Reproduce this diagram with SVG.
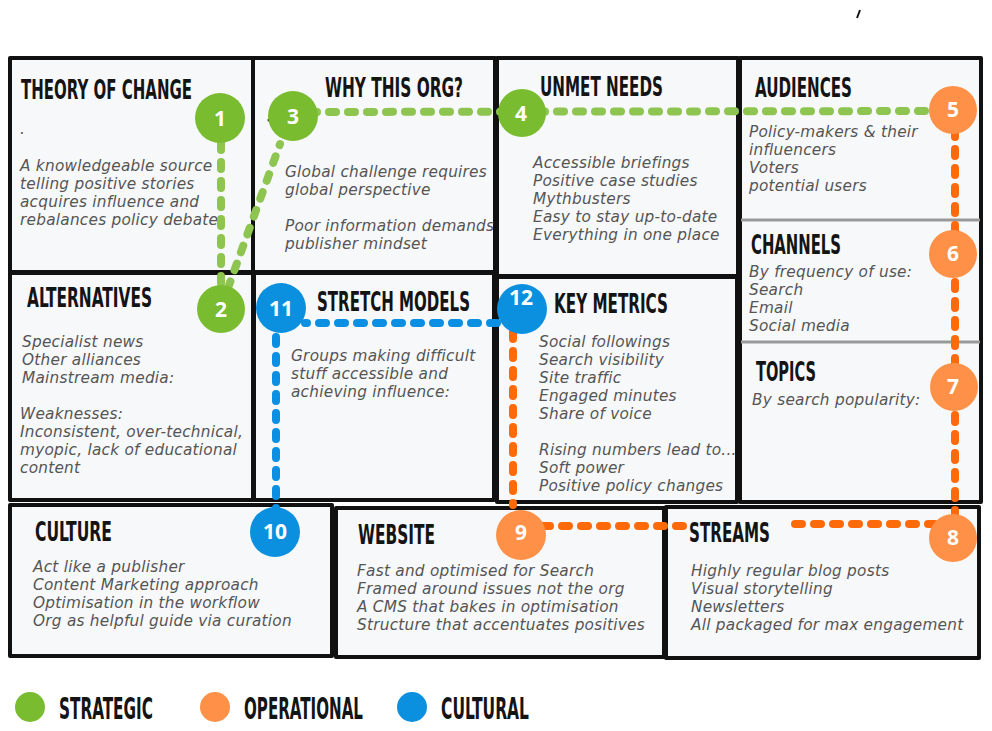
<svg xmlns="http://www.w3.org/2000/svg" width="992" height="731" viewBox="0 0 992 731">
<style>
.box{fill:#f7f8fa;stroke:#111;stroke-width:4;stroke-linejoin:round}
.sep{stroke:#999;stroke-width:3}
.title{font-family:"Liberation Sans Narrow","DejaVu Sans Condensed","Roboto Condensed",sans-serif;font-weight:bold;font-size:21px;fill:#141414}
.body{font-family:"DejaVu Sans","Open Sans",sans-serif;font-style:italic;font-size:15.3px;letter-spacing:0.25px;fill:#555}
.num{font-family:"Open Sans","Noto Sans",sans-serif;font-weight:bold;font-size:21px;fill:#fff;text-anchor:middle}
.legend{font-family:"Liberation Sans Narrow","DejaVu Sans Condensed","Roboto Condensed",sans-serif;font-weight:bold;font-size:24px;fill:#141414}
.dash{fill:none;stroke-width:8;stroke-linecap:round;stroke-dasharray:7 12}
.g{stroke:#8ec450}.o{stroke:#fe6a0a}.b{stroke:#0b8fe2}
.cg{fill:#79bc30}.co{fill:#fe9147}.cb{fill:#0b90e0}
</style>
<rect width="992" height="731" fill="#fff"/>
<path d="M857 18 L860 10" stroke="#111" stroke-width="2"/>

<g id="theory-of-change">
<rect class="box" x="10" y="58" width="243" height="214"/>
<text class="title" transform="translate(21,99) scale(1,1.24)" textLength="171" lengthAdjust="spacingAndGlyphs">THEORY OF CHANGE</text>
<text class="body" x="20" y="134">.</text>
<text class="body" x="20" y="171">A knowledgeable source</text>
<text class="body" x="20" y="189">telling positive stories</text>
<text class="body" x="20" y="207">acquires influence and</text>
<text class="body" x="20" y="225">rebalances policy debate</text>
</g>
<g id="why-this-org">
<rect class="box" x="253" y="58" width="242" height="214"/>
<text class="title" transform="translate(325,97) scale(1,1.24)" textLength="138" lengthAdjust="spacingAndGlyphs">WHY THIS ORG?</text>
<circle cx="269" cy="120" r="1.5" fill="#111"/>
<text class="body" x="285" y="177">Global challenge requires</text>
<text class="body" x="285" y="195">global perspective</text>
<text class="body" x="285" y="231">Poor information demands</text>
<text class="body" x="285" y="249">publisher mindset</text>
</g>
<g id="unmet-needs">
<rect class="box" x="497" y="58" width="241" height="218"/>
<text class="title" transform="translate(540,96) scale(1,1.24)" textLength="123" lengthAdjust="spacingAndGlyphs">UNMET NEEDS</text>
<text class="body" x="533" y="168">Accessible briefings</text>
<text class="body" x="533" y="186">Positive case studies</text>
<text class="body" x="533" y="204">Mythbusters</text>
<text class="body" x="533" y="222">Easy to stay up-to-date</text>
<text class="body" x="533" y="240">Everything in one place</text>
</g>
<g id="audiences">
<rect class="box" x="740" y="58" width="241" height="444"/>
<line class="sep" x1="741" y1="220" x2="980" y2="220"/>
<line class="sep" x1="741" y1="342" x2="980" y2="342"/>
<text class="title" transform="translate(755,97) scale(1,1.24)" textLength="97" lengthAdjust="spacingAndGlyphs">AUDIENCES</text>
<text class="body" x="749" y="137">Policy-makers &amp; their</text>
<text class="body" x="749" y="155">influencers</text>
<text class="body" x="749" y="173">Voters</text>
<text class="body" x="749" y="191">potential users</text>
</g>
<g id="channels">
<text class="title" transform="translate(751,254) scale(1,1.24)" textLength="90" lengthAdjust="spacingAndGlyphs">CHANNELS</text>
<text class="body" x="749" y="277">By frequency of use:</text>
<text class="body" x="749" y="295">Search</text>
<text class="body" x="749" y="313">Email</text>
<text class="body" x="749" y="331">Social media</text>
</g>
<g id="topics">
<text class="title" transform="translate(756,381) scale(1,1.24)" textLength="60" lengthAdjust="spacingAndGlyphs">TOPICS</text>
<text class="body" x="752" y="405">By search popularity:</text>
</g>
<g id="alternatives">
<rect class="box" x="10" y="273" width="243" height="227"/>
<text class="title" transform="translate(27,307) scale(1,1.24)" textLength="125" lengthAdjust="spacingAndGlyphs">ALTERNATIVES</text>
<text class="body" x="22" y="347">Specialist news</text>
<text class="body" x="22" y="365">Other alliances</text>
<text class="body" x="22" y="383">Mainstream media:</text>
<text class="body" x="20" y="419">Weaknesses:</text>
<text class="body" x="20" y="437">Inconsistent, over-technical,</text>
<text class="body" x="20" y="455">myopic, lack of educational</text>
<text class="body" x="20" y="473">content</text>
</g>
<g id="stretch-models">
<rect class="box" x="254" y="273" width="240" height="227"/>
<text class="title" transform="translate(317,311) scale(1,1.24)" textLength="153" lengthAdjust="spacingAndGlyphs">STRETCH MODELS</text>
<text class="body" x="291" y="361">Groups making difficult</text>
<text class="body" x="291" y="379">stuff accessible and</text>
<text class="body" x="291" y="397">achieving influence:</text>
</g>
<g id="key-metrics">
<rect class="box" x="497" y="277" width="240" height="225"/>
<text class="title" transform="translate(554,313) scale(1,1.24)" textLength="114" lengthAdjust="spacingAndGlyphs">KEY METRICS</text>
<text class="body" x="539" y="347">Social followings</text>
<text class="body" x="539" y="365">Search visibility</text>
<text class="body" x="539" y="383">Site traffic</text>
<text class="body" x="539" y="401">Engaged minutes</text>
<text class="body" x="539" y="419">Share of voice</text>
<text class="body" x="539" y="455">Rising numbers lead to...</text>
<text class="body" x="539" y="473">Soft power</text>
<text class="body" x="539" y="491">Positive policy changes</text>
</g>
<g id="culture">
<rect class="box" x="10" y="505" width="322" height="151"/>
<text class="title" transform="translate(35,541) scale(1,1.24)" textLength="77" lengthAdjust="spacingAndGlyphs">CULTURE</text>
<text class="body" x="33" y="572">Act like a publisher</text>
<text class="body" x="33" y="590">Content Marketing approach</text>
<text class="body" x="33" y="608">Optimisation in the workflow</text>
<text class="body" x="33" y="626">Org as helpful guide via curation</text>
</g>
<g id="website">
<rect class="box" x="336" y="508" width="328" height="149"/>
<text class="title" transform="translate(358,544) scale(1,1.24)" textLength="77" lengthAdjust="spacingAndGlyphs">WEBSITE</text>
<text class="body" x="357" y="576">Fast and optimised for Search</text>
<text class="body" x="357" y="594">Framed around issues not the org</text>
<text class="body" x="357" y="612">A CMS that bakes in optimisation</text>
<text class="body" x="357" y="630">Structure that accentuates positives</text>
</g>
<g id="streams">
<rect class="box" x="666" y="507" width="313" height="151"/>
<text class="title" transform="translate(689,542) scale(1,1.24)" textLength="81" lengthAdjust="spacingAndGlyphs">STREAMS</text>
<text class="body" x="691" y="576">Highly regular blog posts</text>
<text class="body" x="691" y="594">Visual storytelling</text>
<text class="body" x="691" y="612">Newsletters</text>
<text class="body" x="691" y="630">All packaged for max engagement</text>
</g>

<g id="connectors">
<path class="dash g" d="M221 143 L221 283"/>
<path class="dash g" d="M228 288 L280 144"/>
<path class="dash g" d="M310 112 L930 111"/>
<path class="dash o" d="M955 130 L955 520"/>
<path class="dash o" d="M935 524 L788 524"/>
<path class="dash o" d="M683 526 L540 526"/>
<path class="dash o" d="M513 332 L513 505"/>
<path class="dash b" d="M497 323 L305 323"/>
<path class="dash b" d="M276 337 L276 510"/>
</g>

<g id="n1"><circle class="cg" cx="220" cy="118" r="25"/><text class="num" x="220" y="126">1</text></g>
<g id="n2"><circle class="cg" cx="221" cy="309" r="24"/><text class="num" x="221" y="317">2</text></g>
<g id="n3"><circle class="cg" cx="293" cy="116" r="25"/><text class="num" x="293" y="124">3</text></g>
<g id="n4"><circle class="cg" cx="522" cy="113" r="24"/><text class="num" x="521" y="121">4</text></g>
<g id="n5"><circle class="co" cx="953" cy="110" r="24"/><text class="num" x="953" y="117">5</text></g>
<g id="n6"><circle class="co" cx="953" cy="254" r="24"/><text class="num" x="953" y="261">6</text></g>
<g id="n7"><circle class="co" cx="954" cy="387" r="24"/><text class="num" x="953" y="394">7</text></g>
<g id="n8"><circle class="co" cx="953" cy="538" r="24"/><text class="num" x="953" y="545">8</text></g>
<g id="n9"><circle class="co" cx="521" cy="535" r="25"/><text class="num" x="521" y="540">9</text></g>
<g id="n10"><circle class="cb" cx="275" cy="532" r="25"/><text class="num" x="275" y="539">10</text></g>
<g id="n11"><circle class="cb" cx="281" cy="308" r="25"/><text class="num" x="281" y="316">11</text></g>
<g id="n12"><circle class="cb" cx="522" cy="309" r="25"/><text class="num" x="521" y="305">12</text></g>

<g id="legend">
<circle class="cg" cx="30" cy="707" r="15"/>
<text class="legend" transform="translate(59,719) scale(1,1.25)" textLength="94" lengthAdjust="spacingAndGlyphs">STRATEGIC</text>
<circle class="co" cx="215" cy="707" r="15"/>
<text class="legend" transform="translate(244,719) scale(1,1.25)" textLength="119" lengthAdjust="spacingAndGlyphs">OPERATIONAL</text>
<circle class="cb" cx="412" cy="707" r="15"/>
<text class="legend" transform="translate(441,719) scale(1,1.25)" textLength="88" lengthAdjust="spacingAndGlyphs">CULTURAL</text>
</g>
</svg>
